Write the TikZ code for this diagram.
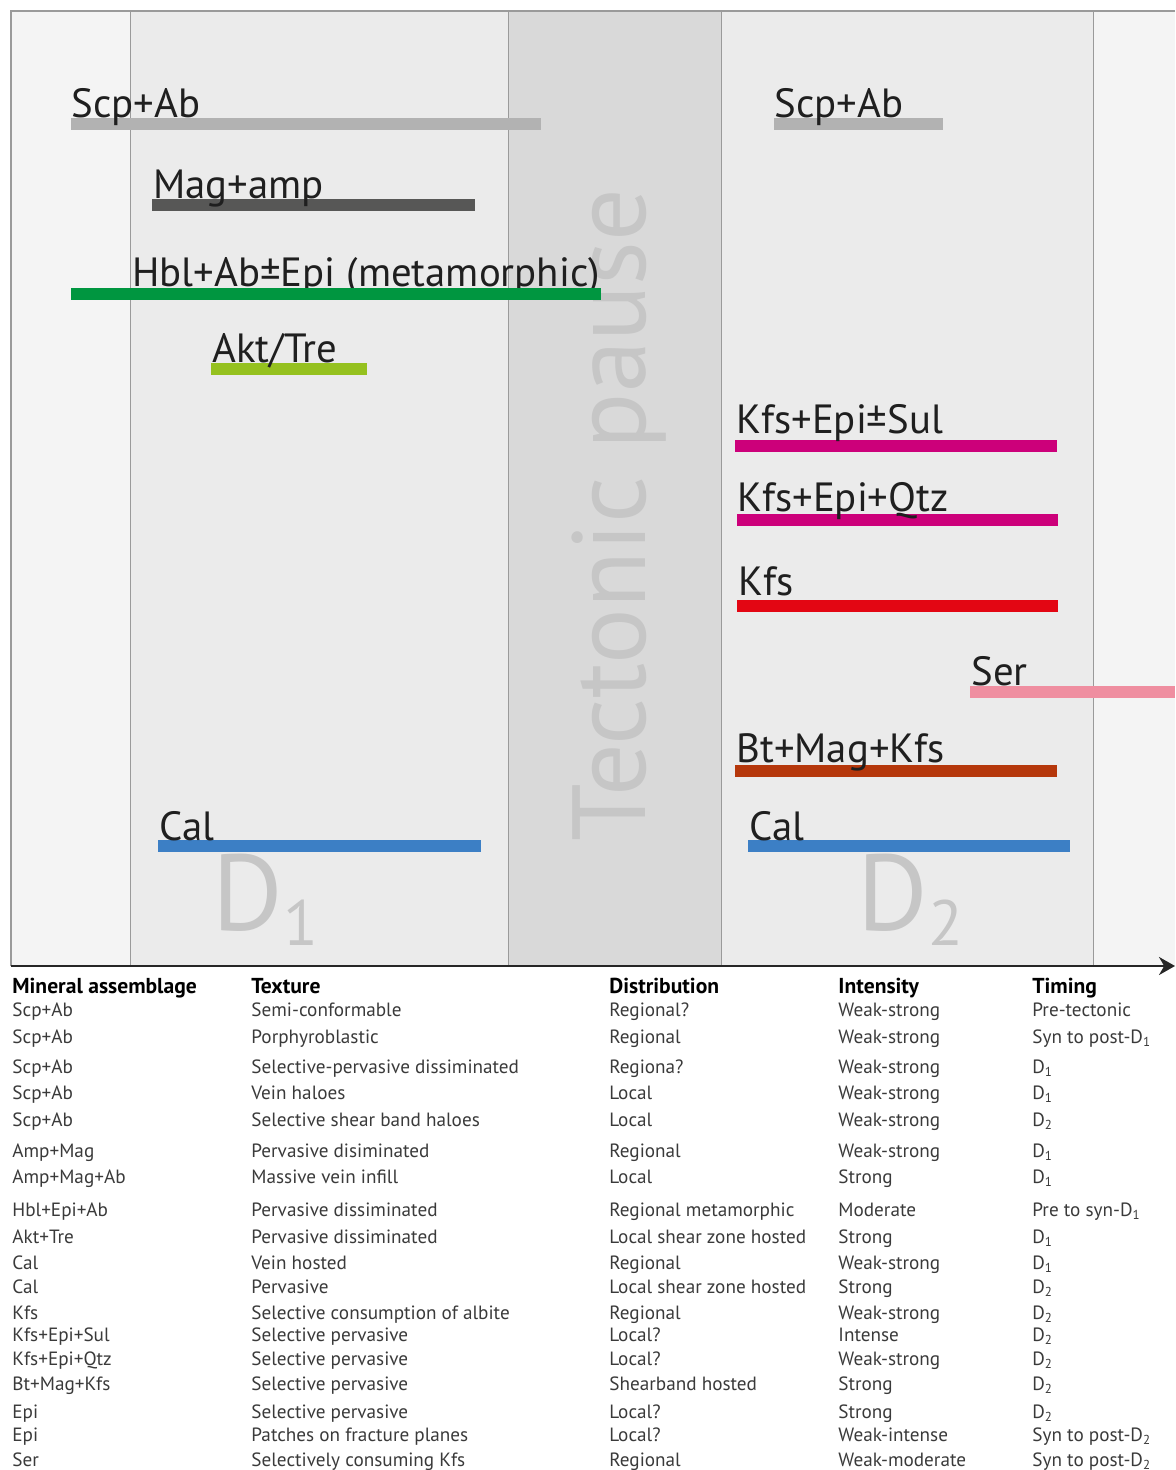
\documentclass[tikz,border=0pt]{standalone}
\usepackage{fontspec}
\setmainfont{PT Sans}
\usepackage{xcolor}
\usetikzlibrary{arrows.meta}

\definecolor{bgpale}{HTML}{F4F4F4}
\definecolor{bglight}{HTML}{EBEBEB}
\definecolor{bgpause}{HTML}{D9D9D9}
\definecolor{divgrey}{HTML}{9A9A9A}
\definecolor{ghostgrey}{HTML}{C6C6C6}
\definecolor{tabtext}{HTML}{3A3A3A}
\definecolor{scpgrey}{HTML}{B2B2B2}
\definecolor{maggrey}{HTML}{575756}
\definecolor{hblgreen}{HTML}{009640}
\definecolor{aktlime}{HTML}{95C11F}
\definecolor{kfsmag}{HTML}{CC007A}
\definecolor{kfsred}{HTML}{E30613}
\definecolor{serpink}{HTML}{EF8EA0}
\definecolor{btrust}{HTML}{B5370B}
\definecolor{calblue}{HTML}{3C7FC5}

\newcommand{\dsub}[1]{\raisebox{-0.35ex}{\fontsize{6.5}{6.5}\selectfont #1}}

\begin{document}
\begin{tikzpicture}[
  x=0.5pt, y=-0.5pt,
  % Horizontal range bars
  bar/.style={line width=6pt, draw=#1},
  % Mineral labels sitting on the bars
  lbl/.style={anchor=base west, inner sep=0pt, text=black!88,
              font=\fontsize{20.4}{21}\selectfont},
  % Large pale background lettering
  ghost/.style={inner sep=0pt, text=ghostgrey},
  % Table cells below the time axis
  cell/.style={anchor=base west, inner sep=0pt, text=tabtext,
               font=\fontsize{9.6}{11}\selectfont},
  head/.style={cell, text=black, font=\fontsize{10.8}{12}\selectfont\bfseries},
  divider/.style={draw=divgrey, line width=0.5pt},
  axis/.style={-{Stealth[length=8pt, width=9pt]}, line width=1.3pt, draw=black!85}
]
\useasboundingbox (0,0) rectangle (1175,1470);

%% ── Time panels ─────────────────────────────────────────────
\fill[bgpale]  (11,11)   rectangle (130,966);
\fill[bglight] (130,11)  rectangle (508,966);
\fill[bgpause] (508,11)  rectangle (721,966);
\fill[bglight] (721,11)  rectangle (1093,966);
\fill[bgpale]  (1093,11) rectangle (1175,966);

\draw[divider] (130,11)  -- (130,966);
\draw[divider] (508,11)  -- (508,966);
\draw[divider] (721,11)  -- (721,966);
\draw[divider] (1093,11) -- (1093,966);
\draw[divgrey, line width=0.8pt] (1175,11) -- (11,11) -- (11,966);

%% ── Background lettering ────────────────────────────────────
\node[ghost, rotate=90, font=\fontsize{52}{52}\selectfont]
      (pause) at (619,515) {Tectonic pause};
\node[ghost, anchor=base west, font=\fontsize{54}{54}\selectfont]
      (dOne) at (212,930) {D\raisebox{-0.14em}{\fontsize{32}{32}\selectfont 1}};
\node[ghost, anchor=base west, font=\fontsize{54}{54}\selectfont]
      (dTwo) at (857,930) {D\raisebox{-0.14em}{\fontsize{32}{32}\selectfont 2}};

%% ── D1 assemblages ──────────────────────────────────────────
\draw[bar=scpgrey]  (71,124)  -- (541,124);
\node[lbl] (scpA) at (71,118) {Scp+Ab};
\draw[bar=maggrey]  (152,205) -- (475,205);
\node[lbl] (magA) at (153,199) {Mag+amp};
\node[lbl] (hblA) at (132,287) {Hbl+Ab±Epi (metamorphic)};
\draw[bar=hblgreen] (71,294)  -- (601,294);
\draw[bar=aktlime]  (211,369) -- (367,369);
\node[lbl] (aktA) at (212,363) {Akt/Tre};
\draw[bar=calblue]  (158,846) -- (481,846);
\node[lbl] (calA) at (159,840) {Cal};

%% ── D2 assemblages ──────────────────────────────────────────
\draw[bar=scpgrey]  (774,124) -- (943,124);
\node[lbl] (scpB) at (774,118) {Scp+Ab};
\draw[bar=kfsmag]   (735,446) -- (1057,446);
\node[lbl] (kfsSul) at (736,434) {Kfs+Epi±Sul};
\draw[bar=kfsmag]   (737,520) -- (1058,520);
\node[lbl] (kfsQtz) at (737,511) {Kfs+Epi+Qtz};
\draw[bar=kfsred]   (737,606) -- (1058,606);
\node[lbl] (kfsB) at (738,595) {Kfs};
\draw[bar=serpink]  (970,692) -- (1175,692);
\node[lbl] (serB) at (971,685) {Ser};
\draw[bar=btrust]   (735,771) -- (1057,771);
\node[lbl] (btB) at (736,762) {Bt+Mag+Kfs};
\draw[bar=calblue]  (748,846) -- (1070,846);
\node[lbl] (calB) at (749,840) {Cal};

%% ── Time axis ───────────────────────────────────────────────
\coordinate (axisL) at (11,966);
\coordinate (axisR) at (1175,966);
\draw[axis] (axisL) -- (axisR);

%% ── Table ───────────────────────────────────────────────────
\node[head] (hMin)  at (12,993)   {Mineral assemblage};
\node[head] (hTex)  at (251,993)  {Texture};
\node[head] (hDis)  at (609,993)  {Distribution};
\node[head] (hInt)  at (838,993)  {Intensity};
\node[head] (hTim)  at (1032,993) {Timing};

\foreach \yy/\ma/\tx/\di/\it/\ti [count=\r] in {
  1016/{Scp+Ab}/{Semi-conformable}/{Regional?}/{Weak-strong}/{Pre-tectonic},
  1043/{Scp+Ab}/{Porphyroblastic}/{Regional}/{Weak-strong}/{Syn to post-D\dsub{1}},
  1073/{Scp+Ab}/{Selective-pervasive dissiminated}/{Regiona?}/{Weak-strong}/{D\dsub{1}},
  1099/{Scp+Ab}/{Vein haloes}/{Local}/{Weak-strong}/{D\dsub{1}},
  1126/{Scp+Ab}/{Selective shear band haloes}/{Local}/{Weak-strong}/{D\dsub{2}},
  1157/{Amp+Mag}/{Pervasive disiminated}/{Regional}/{Weak-strong}/{D\dsub{1}},
  1183/{Amp+Mag+Ab}/{Massive vein infill}/{Local}/{Strong}/{D\dsub{1}},
  1216/{Hbl+Epi+Ab}/{Pervasive dissiminated}/{Regional metamorphic}/{Moderate}/{Pre to syn-D\dsub{1}},
  1243/{Akt+Tre}/{Pervasive dissiminated}/{Local shear zone hosted}/{Strong}/{D\dsub{1}},
  1269/{Cal}/{Vein hosted}/{Regional}/{Weak-strong}/{D\dsub{1}},
  1293/{Cal}/{Pervasive}/{Local shear zone hosted}/{Strong}/{D\dsub{2}},
  1319/{Kfs}/{Selective consumption of albite}/{Regional}/{Weak-strong}/{D\dsub{2}},
  1341/{Kfs+Epi+Sul}/{Selective pervasive}/{Local?}/{Intense}/{D\dsub{2}},
  1365/{Kfs+Epi+Qtz}/{Selective pervasive}/{Local?}/{Weak-strong}/{D\dsub{2}},
  1390/{Bt+Mag+Kfs}/{Selective pervasive}/{Shearband hosted}/{Strong}/{D\dsub{2}},
  1418/{Epi}/{Selective pervasive}/{Local?}/{Strong}/{D\dsub{2}},
  1441/{Epi}/{Patches on fracture planes}/{Local?}/{Weak-intense}/{Syn to post-D\dsub{2}},
  1466/{Ser}/{Selectively consuming Kfs}/{Regional}/{Weak-moderate}/{Syn to post-D\dsub{2}}}
{
  \node[cell] (min\r) at (12,\yy)   {\ma};
  \node[cell] (tex\r) at (251,\yy)  {\tx};
  \node[cell] (dis\r) at (609,\yy)  {\di};
  \node[cell] (int\r) at (838,\yy)  {\it};
  \node[cell] (tim\r) at (1032,\yy) {\ti};
}

\end{tikzpicture}
\end{document}
